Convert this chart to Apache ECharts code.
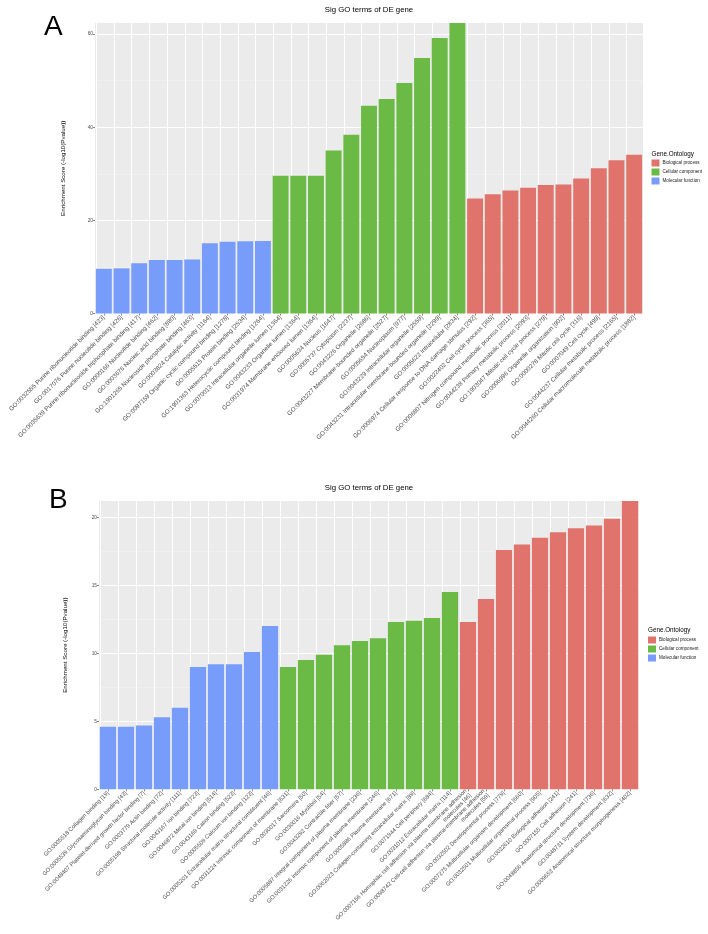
<!DOCTYPE html>
<html>
<head>
<meta charset="utf-8">
<script src="https://cdn.jsdelivr.net/npm/echarts@6/dist/echarts.min.js"></script>
<style>html,body{margin:0;padding:0;background:#fff}#c{width:708px;height:934px}</style>
</head>
<body>
<div id="c"></div>
<script>
// ---------- Panel A data ----------
const catsA = [
  'GO:0032555 Purine ribonucleotide binding [423]',
  'GO:0017076 Purine nucleotide binding [426]',
  'GO:0035639 Purine ribonucleoside triphosphate binding [417]',
  'GO:0000166 Nucleotide binding [462]',
  'GO:0003676 Nucleic acid binding [880]',
  'GO:1901265 Nucleoside phosphate binding [463]',
  'GO:0003824 Catalytic activity [1164]',
  'GO:0097159 Organic cyclic compound binding [1278]',
  'GO:0005515 Protein binding [2534]',
  'GO:1901363 Heterocyclic compound binding [1264]',
  'GO:0070013 Intracellular organelle lumen [1364]',
  'GO:0043233 Organelle lumen [1364]',
  'GO:0031974 Membrane-enclosed lumen [1364]',
  'GO:0005634 Nucleus [1647]',
  'GO:0005737 Cytoplasm [2237]',
  'GO:0043226 Organelle [2686]',
  'GO:0043227 Membrane-bounded organelle [2527]',
  'GO:0005654 Nucleoplasm [977]',
  'GO:0043229 Intracellular organelle [2559]',
  'GO:0043231 Intracellular membrane-bounded organelle [2299]',
  'GO:0005622 Intracellular [2834]',
  'GO:0006974 Cellular response to DNA damage stimulus [292]',
  'GO:0022402 Cell cycle process [365]',
  'GO:0006807 Nitrogen compound metabolic process [2011]',
  'GO:0044238 Primary metabolic process [2093]',
  'GO:1903047 Mitotic cell cycle process [279]',
  'GO:0006996 Organelle organization [902]',
  'GO:0000278 Mitotic cell cycle [316]',
  'GO:0007049 Cell cycle [499]',
  'GO:0044237 Cellular metabolic process [2165]',
  'GO:0044260 Cellular macromolecule metabolic process [1882]'
];
const valsA = [
  9.6, 9.7, 10.8, 11.5, 11.5, 11.6, 15.1, 15.4, 15.5, 15.6,
  29.6, 29.6, 29.6, 35.0, 38.4, 44.6, 46.1, 49.5, 54.9, 59.2, 62.4,
  24.7, 25.6, 26.4, 27.0, 27.6, 27.7, 29.0, 31.2, 32.9, 34.1
];
const ontA = [
  'MF','MF','MF','MF','MF','MF','MF','MF','MF','MF',
  'CC','CC','CC','CC','CC','CC','CC','CC','CC','CC','CC',
  'BP','BP','BP','BP','BP','BP','BP','BP','BP','BP'
];
const yTicksA = [0, 20, 40, 60];
const yMaxA = 62.4;

// ---------- Panel B data ----------
const catsB = [
  'GO:0005518 Collagen binding [19]',
  'GO:0005539 Glycosaminoglycan binding [43]',
  'GO:0048407 Platelet-derived growth factor binding [7]',
  'GO:0003779 Actin binding [72]',
  'GO:0005198 Structural molecule activity [111]',
  'GO:0043167 Ion binding [723]',
  'GO:0046872 Metal ion binding [514]',
  'GO:0043169 Cation binding [523]',
  'GO:0005509 Calcium ion binding [123]',
  'GO:0005201 Extracellular matrix structural constituent [46]',
  'GO:0031224 Intrinsic component of membrane [631]',
  'GO:0030017 Sarcomere [50]',
  'GO:0030016 Myofibril [54]',
  'GO:0043292 Contractile fiber [57]',
  'GO:0005887 Integral component of plasma membrane [236]',
  'GO:0031226 Intrinsic component of plasma membrane [246]',
  'GO:0005886 Plasma membrane [671]',
  'GO:0062023 Collagen-containing extracellular matrix [89]',
  'GO:0071944 Cell periphery [684]',
  'GO:0031012 Extracellular matrix [114]',
  'GO:0007156 Homophilic cell adhesion via plasma membrane adhesion\nmolecules [46]',
  'GO:0098742 Cell-cell adhesion via plasma-membrane adhesion\nmolecules [59]',
  'GO:0032502 Developmental process [779]',
  'GO:0007275 Multicellular organism development [660]',
  'GO:0032501 Multicellular organismal process [905]',
  'GO:0022610 Biological adhesion [241]',
  'GO:0007155 Cell adhesion [241]',
  'GO:0048856 Anatomical structure development [736]',
  'GO:0048731 System development [632]',
  'GO:0009653 Anatomical structure morphogenesis [402]'
];
const valsB = [
  4.6, 4.6, 4.7, 5.3, 6.0, 9.0, 9.2, 9.2, 10.1, 12.0,
  9.0, 9.5, 9.9, 10.6, 10.9, 11.1, 12.3, 12.4, 12.6, 14.5,
  12.3, 14.0, 17.6, 18.0, 18.5, 18.9, 19.2, 19.4, 19.9, 21.2
];
const ontB = [
  'MF','MF','MF','MF','MF','MF','MF','MF','MF','MF',
  'CC','CC','CC','CC','CC','CC','CC','CC','CC','CC',
  'BP','BP','BP','BP','BP','BP','BP','BP','BP','BP'
];
const yTicksB = [0, 5, 10, 15, 20];
const yMaxB = 21.2;

const groupNames = { BP: 'Biological process', CC: 'Cellular component', MF: 'Molecular function' };
const groupOrder = ['BP', 'CC', 'MF'];
const groupColors = { BP: '#E0746D', CC: '#6BBA45', MF: '#789CF9' };

const titleText = 'Sig GO terms of DE gene';
const yName = 'Enrichment Score (-log10(Pvalue))';
const legendTitle = 'Gene.Ontology';

// ---------- build ----------
const FONT = '"Liberation Sans", Arial, sans-serif';
const chart = echarts.init(document.getElementById('c'), null, { renderer: 'canvas' });

function xAxisFor(cats, gi, fs) {
  return {
    type: 'category', gridIndex: gi, data: cats,
    axisLine: { show: false },
    axisTick: { show: true, alignWithLabel: true, length: 2, lineStyle: { color: '#333', width: 0.6 } },
    axisLabel: { interval: 0, rotate: 45, fontSize: fs, color: '#4D4D4D', fontFamily: FONT, margin: 3, lineHeight: 6.5 },
    splitLine: { show: false }
  };
}
function yAxisFor(ticks, max, interval, gi, gap) {
  return {
    type: 'value', gridIndex: gi, min: 0, max: max, interval: interval,
    name: yName, nameLocation: 'middle', nameRotate: 90, nameGap: gap,
    nameTextStyle: { fontSize: 6.2, color: '#000', fontFamily: FONT },
    axisLine: { show: false },
    axisTick: { show: true, length: 2, lineStyle: { color: '#333', width: 0.6 }, customValues: ticks },
    axisLabel: { fontSize: 4.8, color: '#4D4D4D', fontFamily: FONT, margin: 2, customValues: ticks },
    splitLine: { show: true, lineStyle: { color: '#FFFFFF', width: 1 } },
    minorTick: { show: false, splitNumber: 2 },
    minorSplitLine: { show: true, lineStyle: { color: '#F4F4F4', width: 0.5 } }
  };
}
function seriesFor(cats, vals, ont, gi) {
  const out = [];
  // vertical major grid lines at category centres
  out.push({
    type: 'bar', xAxisIndex: gi, yAxisIndex: gi, data: cats.map(() => '-'), z: 1, silent: true,
    markLine: {
      silent: true, symbol: 'none', z: 1, animation: false,
      label: { show: false },
      lineStyle: { color: '#FFFFFF', width: 1, type: 'solid' },
      data: cats.map((c, i) => ({ xAxis: i }))
    }
  });
  groupOrder.forEach(g => {
    out.push({
      name: groupNames[g], type: 'bar', xAxisIndex: gi, yAxisIndex: gi, z: 3,
      barWidth: '90%', barGap: '-100%',
      itemStyle: { color: groupColors[g] },
      data: vals.map((v, i) => ont[i] === g ? v : '-')
    });
  });
  return out;
}

const legendData = groupOrder.map(g => groupNames[g]);
function legendFor(left, top) {
  return {
    left: left, top: top, orient: 'vertical', padding: 0,
    itemWidth: 8, itemHeight: 7, itemGap: 2, icon: 'rect',
    textStyle: { fontSize: 4.6, color: '#1a1a1a', fontFamily: FONT, padding: [0, 0, 0, -2] },
    data: legendData, selectedMode: false
  };
}

const option = {
  animation: false,
  backgroundColor: '#fff',
  grid: [
    { left: 95, right: 65, top: 23, height: 290.5, show: true, backgroundColor: '#EBEBEB', borderWidth: 0 },
    { left: 99, right: 69, top: 501, height: 288.3, show: true, backgroundColor: '#EBEBEB', borderWidth: 0 }
  ],
  xAxis: [xAxisFor(catsA, 0, 6.2), xAxisFor(catsB, 1, 5.8)],
  yAxis: [yAxisFor(yTicksA, yMaxA, 20, 0, 29), yAxisFor(yTicksB, yMaxB, 5, 1, 31)],
  legend: [legendFor(651.5, 159.5), legendFor(648, 636.5)],
  series: [].concat(seriesFor(catsA, valsA, ontA, 0), seriesFor(catsB, valsB, ontB, 1)),
  graphic: [
    { type: 'text', x: 44, y: 27, style: { text: 'A', font: '28px ' + FONT, fill: '#000', textVerticalAlign: 'middle' } },
    { type: 'text', x: 49, y: 500, style: { text: 'B', font: '28px ' + FONT, fill: '#000', textVerticalAlign: 'middle' } },
    { type: 'text', x: 369, y: 9.5, style: { text: titleText, font: '7.8px ' + FONT, fill: '#000', textAlign: 'center', textVerticalAlign: 'middle' } },
    { type: 'text', x: 369, y: 487.5, style: { text: titleText, font: '7.8px ' + FONT, fill: '#000', textAlign: 'center', textVerticalAlign: 'middle' } },
    { type: 'text', x: 651.5, y: 154, style: { text: legendTitle, font: '6.3px ' + FONT, fill: '#000', textVerticalAlign: 'middle' } },
    { type: 'text', x: 648, y: 630.5, style: { text: legendTitle, font: '6.3px ' + FONT, fill: '#000', textVerticalAlign: 'middle' } }
  ]
};
chart.setOption(option);
</script>
</body>
</html>
